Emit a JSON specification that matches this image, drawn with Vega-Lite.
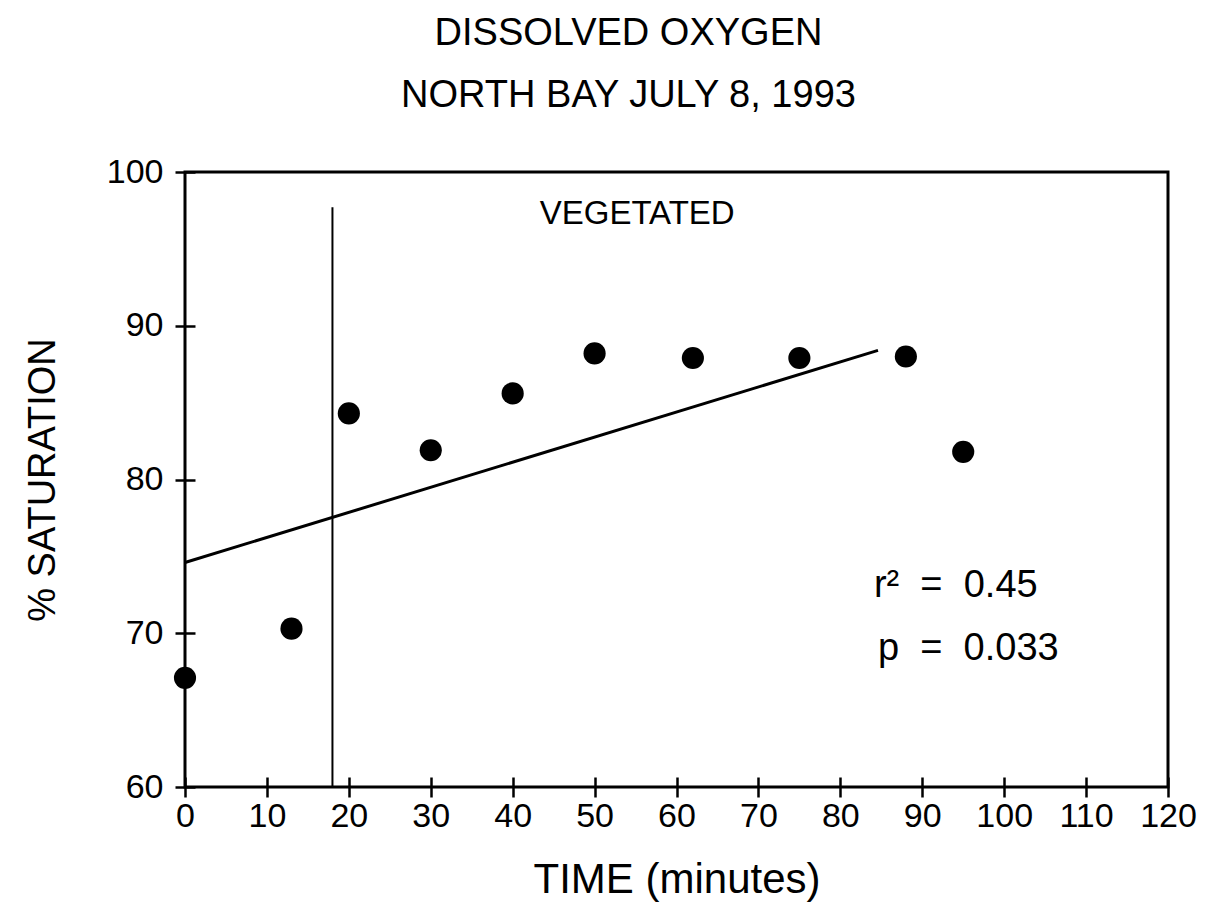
{
  "$schema": "https://vega.github.io/schema/vega-lite/v6.json",
  "width": 983,
  "height": 615,
  "padding": {"left": 24, "top": 15, "right": 10, "bottom": 5},
  "background": "white",
  "title": {
    "text": ["DISSOLVED OXYGEN", "NORTH BAY JULY 8, 1993"],
    "font": "Liberation Sans",
    "fontSize": 38,
    "fontWeight": "normal",
    "color": "black",
    "lineHeight": 62,
    "anchor": "middle",
    "dx": -48,
    "offset": 40
  },
  "config": {
    "view": {"stroke": "black", "strokeWidth": 3},
    "axis": {
      "grid": false,
      "domain": false,
      "offset": -10,
      "tickSize": 20,
      "tickWidth": 2.5,
      "tickColor": "black",
      "labelFont": "Liberation Sans",
      "labelFontSize": 34,
      "labelColor": "black",
      "labelOverlap": false,
      "labelFlush": false,
      "labelBound": false,
      "titleFont": "Liberation Sans",
      "titleFontWeight": "normal",
      "titleColor": "black"
    }
  },
  "datasets": {
    "pts": [
      {"time": 0, "sat": 67.1},
      {"time": 13, "sat": 70.3},
      {"time": 20, "sat": 84.3},
      {"time": 30, "sat": 81.9},
      {"time": 40, "sat": 85.6},
      {"time": 50, "sat": 88.2},
      {"time": 62, "sat": 87.9},
      {"time": 75, "sat": 87.9},
      {"time": 88, "sat": 88.0},
      {"time": 95, "sat": 81.8}
    ],
    "fit": [
      {"time": 0, "sat": 74.6},
      {"time": 84.6, "sat": 88.4}
    ],
    "divider": [
      {"time": 18, "lo": 60, "hi": 97.7}
    ],
    "labels": [
      {"time": 55.2, "sat": 97.3, "label": "VEGETATED", "kind": "veg"},
      {"time": 84.1, "sat": 73.1, "label": "r²\u2007=\u20070.45", "kind": "stat"},
      {"time": 84.6, "sat": 69.0, "label": "p\u2007=\u20070.033", "kind": "stat"}
    ]
  },
  "layer": [
    {
      "data": {"name": "pts"},
      "mark": {"type": "point", "shape": "circle", "filled": true, "color": "black", "size": 490, "opacity": 1},
      "encoding": {
        "x": {
          "field": "time", "type": "quantitative",
          "scale": {"domain": [0, 120], "nice": false, "zero": false},
          "axis": {"values": [0,10,20,30,40,50,60,70,80,90,100,110,120], "title": "TIME (minutes)", "titleFontSize": 42, "titlePadding": 26, "labelPadding": 2}
        },
        "y": {
          "field": "sat", "type": "quantitative",
          "scale": {"domain": [60, 100], "nice": false, "zero": false},
          "axis": {"values": [60,70,80,90,100], "title": "% SATURATION", "titleFontSize": 38, "titlePadding": 44, "labelPadding": 12}
        }
      }
    },
    {
      "data": {"name": "fit"},
      "mark": {"type": "line", "color": "black", "strokeWidth": 3},
      "encoding": {
        "x": {"field": "time", "type": "quantitative"},
        "y": {"field": "sat", "type": "quantitative"}
      }
    },
    {
      "data": {"name": "divider"},
      "mark": {"type": "rule", "color": "black", "strokeWidth": 2},
      "encoding": {
        "x": {"field": "time", "type": "quantitative"},
        "y": {"field": "lo", "type": "quantitative"},
        "y2": {"field": "hi"}
      }
    },
    {
      "data": {"name": "labels"},
      "transform": [{"filter": "datum.kind === 'veg'"}],
      "mark": {"type": "text", "font": "Liberation Sans", "fontSize": 33, "color": "black", "align": "center", "baseline": "middle"},
      "encoding": {
        "x": {"field": "time", "type": "quantitative"},
        "y": {"field": "sat", "type": "quantitative"},
        "text": {"field": "label"}
      }
    },
    {
      "data": {"name": "labels"},
      "transform": [{"filter": "datum.kind === 'stat'"}],
      "mark": {"type": "text", "font": "Liberation Sans", "fontSize": 38, "color": "black", "align": "left", "baseline": "middle"},
      "encoding": {
        "x": {"field": "time", "type": "quantitative"},
        "y": {"field": "sat", "type": "quantitative"},
        "text": {"field": "label"}
      }
    }
  ]
}
